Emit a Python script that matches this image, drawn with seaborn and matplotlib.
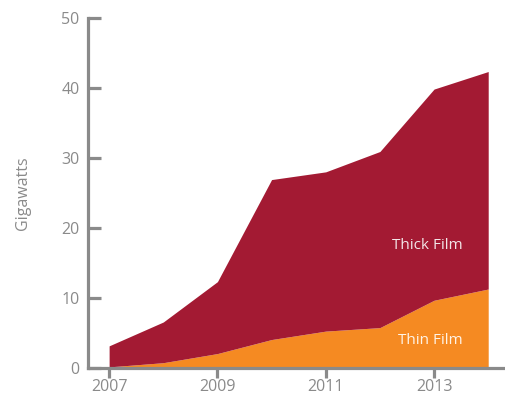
import matplotlib
matplotlib.use("Agg")
import matplotlib.pyplot as plt
import seaborn as sns
import numpy as np
import pandas as pd

years = [2007, 2008, 2009, 2010, 2011, 2012, 2013, 2014]
thin_film = [0.2, 0.8, 2.1, 4.1, 5.3, 5.8, 9.7, 11.3]
total = [3.2, 6.6, 12.35, 26.9, 28.0, 30.9, 39.8, 42.3]
thick_film = [t - s for t, s in zip(total, thin_film)]
yticks = [0, 10, 20, 30, 40, 50]
xticks = [2007, 2009, 2011, 2013]

df = pd.DataFrame({"year": years, "Thin Film": thin_film, "Thick Film": thick_film})

sns.set_theme(style="white")
plt.rcParams['font.family'] = ['Open Sans', 'DejaVu Sans']

gray = "#8a8a8a"
c_thick = "#A31A33"
c_thin = "#F58A22"

fig = plt.figure(figsize=(5.05, 4.01), dpi=100)
ax = fig.add_axes([88/505, 1 - 368.3/401, 1 - 88/505, (368.3 - 17.5)/401])

ax.stackplot(df["year"], df["Thin Film"], df["Thick Film"],
             colors=[c_thin, c_thick], linewidth=0)

ax.set_xlim(2006.61, 2014.31)
ax.set_ylim(0, 50)
ax.set_xticks(xticks)
ax.set_yticks(yticks)
ax.set_xticklabels([str(x) for x in xticks])
ax.set_yticklabels([str(y) for y in yticks])

sns.despine(ax=ax, top=True, right=True)
for side in ["left", "bottom"]:
    ax.spines[side].set_color(gray)
    ax.spines[side].set_linewidth(2.3)

ax.tick_params(axis="y", direction="in", length=9, width=2.3, color=gray,
               labelcolor=gray, labelsize=11.5, pad=6, left=True)
ax.tick_params(axis="x", direction="out", length=7, width=2.3, color=gray,
               labelcolor=gray, labelsize=11.5, pad=1, bottom=True)

ax.set_ylabel("Gigawatts", color=gray, fontsize=11.5, labelpad=22)
ax.set_xlabel("")

ax.text(2013.53, 17.5, "Thick Film", color="#f3e6e8", fontsize=11,
        ha="right", va="center")
ax.text(2013.53, 4.0, "Thin Film", color="#fff3e6", fontsize=11,
        ha="right", va="center")

fig.savefig("out.png", dpi=100)
